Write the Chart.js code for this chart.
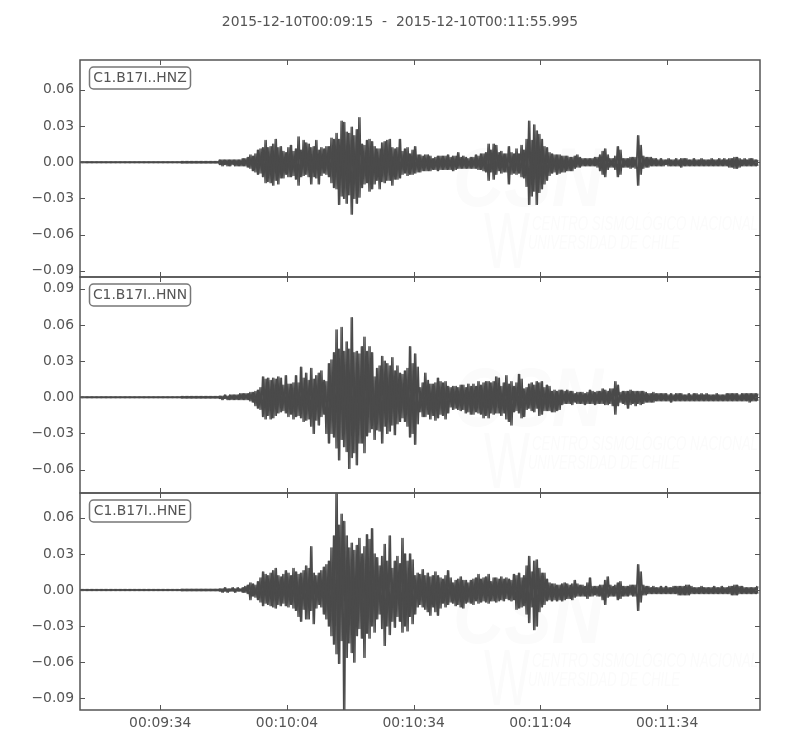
<!DOCTYPE html>
<html>
<head>
<meta charset="utf-8">
<script src="https://cdn.jsdelivr.net/npm/chart.js@4"></script>
<style>
html,body{margin:0;padding:0;background:#fff;width:800px;height:750px;overflow:hidden}
canvas{position:absolute;left:0;top:0}
</style>
</head>
<body>
<canvas id="c0" width="800" height="750"></canvas>
<canvas id="c1" width="800" height="750"></canvas>
<canvas id="c2" width="800" height="750"></canvas>
<script>
const titleText = '2015-12-10T00:09:15  -  2015-12-10T00:11:55.995';
const stationLabels = ['C1.B17I..HNZ', 'C1.B17I..HNN', 'C1.B17I..HNE'];
const xTickSeconds = [19, 49, 79, 109, 139];
const xTickLabels = ['00:09:34', '00:10:04', '00:10:34', '00:11:04', '00:11:34'];
const yTicks0 = [0.06, 0.03, 0, -0.03, -0.06, -0.09];
const yTicks1 = [0.09, 0.06, 0.03, 0, -0.03, -0.06];
const yTicks2 = [0.06, 0.03, 0, -0.03, -0.06, -0.09];
const yRange0 = [-0.0951, 0.0847];
const yRange1 = [-0.0794, 0.0998];
const yRange2 = [-0.0997, 0.0806];

/* trace extremes read per 0.6 s window, in thousandths of the axis unit */
const hnzUp = [
.5,.5,.5,.5,.5,.5,.5,.5,.5,.5,.5,.5,.5,.5,.5,.5,.5,.5,.5,.5,
.5,.5,.5,.5,.5,.5,.5,.5,.5,.5,.5,.5,.5,.5,.5,.5,.5,.5,.5,.5,
.7,.7,.7,.7,.7,.7,.7,.7,.7,.7,.7,.7,.7,.7,.7,
2,2,2,2,2,2,2,2,2,3,
3,4,6,5,7,10,11,12,18,12,
13,15,19,12,13,9,8,12,14,9,
11,21,10,18,16,15,12,13,18,10,
12,11,13,13,20,19,24,19,34,33,
25,24,29,22,27,37,15,14,18,19,
17,13,11,11,16,17,18,19,12,11,
12,19,9,11,12,7,10,13,6,6,
5,6,6,5,3,4,5,5,5,5,
6,4,5,5,8,4,5,4,3,4,
4,6,5,7,7,8,15,10,15,14,
8,9,7,7,13,8,7,11,7,14,
10,19,34,18,31,26,23,19,13,12,
8,7,6,6,6,5,5,5,4,4,
5,6,4,3,3,3,3,3,4,4,
6,9,11,6,3,3,5,13,10,3,
3,3,4,4,4,22,14,5,4,4,
4,3,3,2,3,2,2,3,2,2,
3,2,3,3,3,2,2,3,2,2,
3,2,2,2,3,2,2,3,2,3,
2,3,3,4,4,3,2,3,2,3,
3,2,2];
const hnzDown = [
.5,.5,.5,.5,.5,.5,.5,.5,.5,.5,.5,.5,.5,.5,.5,.5,.5,.5,.5,.5,
.5,.5,.5,.5,.5,.5,.5,.5,.5,.5,.5,.5,.5,.5,.5,.5,.5,.5,.5,.5,
.7,.7,.7,.7,.7,.7,.7,.7,.7,.7,.7,.7,.7,.7,.7,
2,3,2,3,3,2,3,3,3,3,
3,4,5,7,8,10,9,12,17,16,
17,19,15,18,13,13,10,12,12,11,
14,19,12,11,10,12,18,12,13,18,
11,9,10,12,17,21,22,35,28,30,
34,27,43,30,34,29,21,18,17,24,
22,18,15,22,16,17,15,15,19,14,
14,13,10,9,11,10,10,9,8,8,
7,7,7,7,6,6,7,6,6,6,
6,6,7,6,5,5,5,5,5,5,
5,5,6,6,7,8,15,8,14,10,
7,9,8,8,18,10,9,10,9,12,
13,20,35,28,24,35,25,22,18,15,
11,9,8,10,9,8,8,7,7,7,
5,4,4,3,3,3,3,3,3,4,
7,10,12,6,4,4,6,12,10,4,
4,4,5,4,5,19,10,5,4,4,
3,3,3,3,3,3,2,3,3,3,
3,3,4,3,3,3,3,3,3,3,
3,3,3,3,3,3,3,3,3,3,
3,4,4,5,5,4,3,3,3,3,
3,3,3];
const hnnUp = [
.5,.5,.5,.5,.5,.5,.5,.5,.5,.5,.5,.5,.5,.5,.5,.5,.5,.5,.5,.5,
.5,.5,.5,.5,.5,.5,.5,.5,.5,.5,.5,.5,.5,.5,.5,.5,.5,.5,.5,.5,
.7,.7,.7,.7,.7,.7,.7,.7,.7,.7,.7,.7,.7,.7,.7,
1,1,2,1,2,2,2,2,3,3,
3,3,4,4,5,6,8,17,15,16,
14,16,15,17,16,10,18,11,11,12,
18,12,25,16,20,14,24,15,18,20,
22,14,13,28,31,37,56,40,58,38,
46,40,66,37,38,36,42,50,38,42,
37,17,24,26,34,30,28,26,33,22,
26,20,19,22,24,42,28,36,25,8,
12,20,14,11,11,12,16,13,12,13,
9,8,9,9,8,10,10,8,11,9,
11,9,13,10,12,13,13,12,13,17,
16,9,12,18,11,13,9,12,19,15,
7,8,11,12,10,13,12,13,8,10,
9,5,6,5,6,6,5,6,5,5,
3,4,4,4,3,4,6,5,4,5,
5,7,6,5,7,7,13,10,4,5,
5,5,6,5,5,5,5,5,4,3,
3,4,3,3,3,3,3,2,3,2,
3,3,3,2,2,3,2,3,3,2,
3,2,3,2,2,2,3,2,2,2,
3,3,3,3,3,2,3,3,3,3,
3,3,3];
const hnnDown = [
.5,.5,.5,.5,.5,.5,.5,.5,.5,.5,.5,.5,.5,.5,.5,.5,.5,.5,.5,.5,
.5,.5,.5,.5,.5,.5,.5,.5,.5,.5,.5,.5,.5,.5,.5,.5,.5,.5,.5,.5,
.7,.7,.7,.7,.7,.7,.7,.7,.7,.7,.7,.7,.7,.7,.7,
1,2,1,2,2,2,2,2,2,2,
2,2,3,4,7,9,10,16,18,15,
18,17,15,13,12,11,13,16,14,18,
16,15,17,20,19,18,24,30,19,23,
16,14,30,38,30,33,42,52,35,41,
45,59,50,46,56,38,38,46,32,29,
26,35,27,28,38,24,30,28,23,31,
22,20,17,20,24,33,30,39,22,12,
16,16,14,18,15,19,17,14,15,18,
13,8,10,9,10,11,10,13,12,14,
14,12,13,14,17,15,17,13,14,13,
13,15,13,18,20,23,12,11,13,17,
16,10,9,11,12,9,15,14,11,11,
11,12,12,11,10,6,5,5,5,6,
4,5,5,5,6,5,5,5,6,5,
5,5,6,6,5,7,14,7,4,5,
6,9,6,5,7,5,6,5,4,4,
4,4,3,3,3,3,3,3,4,3,
3,3,3,3,3,3,3,3,3,3,
3,3,3,3,3,3,3,3,3,3,
3,3,3,3,3,3,3,3,3,4,
3,3,3];
const hneUp = [
.5,.5,.5,.5,.5,.5,.5,.5,.5,.5,.5,.5,.5,.5,.5,.5,.5,.5,.5,.5,
.5,.5,.5,.5,.5,.5,.5,.5,.5,.5,.5,.5,.5,.5,.5,.5,.5,.5,.5,.5,
.7,.7,.7,.7,.7,.7,.7,.7,.7,.7,.7,.7,.7,.7,.7,
1,1,2,1,1,2,1,2,1,2,
3,4,6,5,4,7,10,15,13,12,
14,16,18,12,11,13,16,14,12,18,
15,13,14,16,20,18,36,14,12,14,
16,19,21,24,35,45,85,54,63,57,
45,35,39,33,37,43,30,36,46,42,
51,30,27,20,28,38,24,45,18,24,
28,22,43,30,24,30,25,12,14,13,
17,12,14,11,12,15,12,10,9,12,
16,10,6,8,9,11,8,8,6,8,
9,10,13,9,10,11,13,7,10,10,
9,11,9,10,9,8,13,12,14,10,
12,20,28,15,24,25,18,14,14,9,
6,5,5,4,4,5,6,5,4,5,
8,5,4,4,3,6,10,3,3,3,
4,4,8,11,4,3,4,6,7,3,
3,3,4,4,4,21,15,4,3,3,
2,3,2,2,3,2,3,2,2,3,
3,3,3,3,4,4,3,2,2,2,
3,2,2,2,2,3,2,2,3,2,
2,3,3,4,4,3,3,2,2,2,
2,2,3];
const hneDown = [
.5,.5,.5,.5,.5,.5,.5,.5,.5,.5,.5,.5,.5,.5,.5,.5,.5,.5,.5,.5,
.5,.5,.5,.5,.5,.5,.5,.5,.5,.5,.5,.5,.5,.5,.5,.5,.5,.5,.5,.5,
.7,.7,.7,.7,.7,.7,.7,.7,.7,.7,.7,.7,.7,.7,.7,
1,2,1,2,1,1,2,1,1,2,
2,3,8,5,6,8,10,13,11,12,
13,14,15,12,13,11,13,14,12,15,
17,22,26,16,24,24,17,28,15,12,
14,20,24,30,38,45,53,61,42,100,
56,44,52,60,38,32,40,56,36,40,
30,35,24,20,32,46,30,37,26,31,
22,26,35,30,34,22,28,20,14,12,
14,16,18,21,14,18,21,15,11,14,
12,10,11,13,12,14,15,11,10,11,
12,9,11,10,9,10,11,9,9,10,
9,8,9,7,8,9,8,16,15,14,
13,20,27,14,33,30,18,14,12,9,
8,9,8,9,8,9,8,7,7,8,
6,5,5,5,5,7,5,5,4,5,
5,8,12,6,5,5,5,8,7,5,
5,5,4,5,5,17,10,4,4,3,
3,3,3,3,3,3,3,3,3,3,
3,4,4,4,4,4,3,3,3,3,
3,3,3,3,3,3,3,3,3,3,
3,3,4,4,4,3,3,3,3,3,
3,3,3];

const ink = '#4a4a4a', frame = '#555555', textInk = '#555555';
const fontFamily = '"DejaVu Sans", sans-serif';
const fontPx = 13.89;
const windowSeconds = 0.6, duration = 160.995;
const panelEdges = [[60, 277], [277, 493], [493, 710]];
const watermarkShift = [0, 3, 4];

/* the trace swings between the read extremes; the second pass crosses the first so the body is solid */
function traceA(up, down) {
  const pts = [];
  up.forEach((v, i) => {
    pts.push({x: i * windowSeconds, y: v / 1000});
    pts.push({x: (i + 0.5) * windowSeconds, y: -down[i] / 1000});
  });
  return pts;
}
function traceB(up, down) {
  const pts = [];
  up.forEach((v, i) => {
    pts.push({x: i * windowSeconds, y: -down[i] / 1000});
    pts.push({x: (i + 0.5) * windowSeconds, y: v / 1000});
  });
  return pts;
}

function makeFramePlugin(idx) {
  return {
    id: 'frame' + idx,
    beforeDatasetsDraw(chart) {
      const {ctx, chartArea: a} = chart;
      const s = watermarkShift[idx];
      ctx.save();
      ctx.beginPath(); ctx.rect(a.left, a.top, a.right - a.left, a.bottom - a.top); ctx.clip();
      ctx.fillStyle = '#fbfbfb';
      ctx.textAlign = 'left'; ctx.textBaseline = 'alphabetic';
      ctx.font = 'italic bold 84px "Liberation Sans"';
      ctx.fillText('CSN', 453, a.top + 146 + s, 150);
      ctx.font = '80px "Liberation Sans"';
      ctx.fillText('W', 484, a.top + 208 + s, 46);
      ctx.font = 'italic 21px "Liberation Sans"';
      ctx.fillText('CENTRO SISMOLÓGICO NACIONAL', 532, a.top + 170 + s, 226);
      ctx.fillText('UNIVERSIDAD DE CHILE', 528, a.top + 189 + s, 152);
      ctx.restore();
    },
    afterDraw(chart) {
      const {ctx, chartArea: a, scales} = chart;
      ctx.save();
      ctx.strokeStyle = frame; ctx.lineWidth = 1;
      ctx.beginPath();
      scales.x.ticks.forEach(t => {
        const p = Math.round(scales.x.getPixelForValue(t.value)) + 0.5;
        ctx.moveTo(p, a.top); ctx.lineTo(p, a.top + 5);
        ctx.moveTo(p, a.bottom); ctx.lineTo(p, a.bottom - 5);
      });
      scales.y.ticks.forEach(t => {
        const p = Math.round(scales.y.getPixelForValue(t.value)) + 0.5;
        ctx.moveTo(a.left, p); ctx.lineTo(a.left + 5, p);
        ctx.moveTo(a.right, p); ctx.lineTo(a.right - 5, p);
      });
      ctx.stroke();
      ctx.lineWidth = 1.5;
      ctx.strokeRect(a.left, a.top, a.right - a.left, a.bottom - a.top);
      /* station label box */
      const bx = a.left + 9.5, by = a.top + 7, bw = 101, bh = 22;
      ctx.beginPath(); ctx.roundRect(bx, by, bw, bh, 4);
      ctx.fillStyle = '#fff'; ctx.fill();
      ctx.strokeStyle = '#777'; ctx.lineWidth = 1.5; ctx.stroke();
      ctx.fillStyle = textInk; ctx.font = fontPx + 'px ' + fontFamily;
      ctx.textAlign = 'center'; ctx.textBaseline = 'middle';
      ctx.fillText(stationLabels[idx], bx + bw / 2, by + bh / 2);
      ctx.restore();
    }
  };
}

function build(idx, up, down, yTicks, yRange) {
  const [top, bottom] = panelEdges[idx];
  const last = idx === 2, first = idx === 0;
  const style = {borderColor: ink, borderWidth: 1.25, borderJoinStyle: 'round', pointRadius: 0, tension: 0, fill: false};
  new Chart(document.getElementById('c' + idx), {
    type: 'line',
    data: {datasets: [
      Object.assign({label: stationLabels[idx], data: traceA(up, down)}, style),
      Object.assign({label: stationLabels[idx] + ' body', data: traceB(up, down)}, style)
    ]},
    options: {
      responsive: false, animation: false, parsing: false,
      events: [],
      layout: {padding: {left: 0, right: 0, top: first ? 0 : top, bottom: 750 - bottom - (last ? 40 : 0)}},
      plugins: {
        legend: {display: false}, tooltip: {enabled: false},
        title: {
          display: first, text: titleText, color: textInk,
          font: {family: fontFamily, size: fontPx, weight: 'normal', lineHeight: 1.2},
          padding: {top: 14.5, bottom: 28.83}
        }
      },
      scales: {
        x: {
          type: 'linear', min: 0, max: duration,
          border: {display: false},
          grid: {display: false, drawTicks: false},
          afterBuildTicks(s) { s.ticks = xTickSeconds.map(v => ({value: v})); },
          afterFit(s) { s.height = last ? 40 : 0; },
          ticks: {
            display: last, autoSkip: false, maxRotation: 0, padding: 5, color: textInk,
            font: {family: fontFamily, size: fontPx},
            callback: v => xTickLabels[xTickSeconds.indexOf(v)]
          }
        },
        y: {
          type: 'linear', min: yRange[0], max: yRange[1],
          border: {display: false},
          grid: {display: false, drawTicks: false},
          afterBuildTicks(s) { s.ticks = yTicks.map(v => ({value: v})); },
          afterFit(s) { s.width = 80; },
          ticks: {
            autoSkip: false, padding: 6, color: textInk,
            font: {family: fontFamily, size: fontPx},
            callback: v => (v < 0 ? '\u2212' : '') + Math.abs(v).toFixed(2)
          }
        },
        rightGutter: {
          type: 'linear', position: 'right', min: 0, max: 1,
          border: {display: false},
          grid: {display: false, drawTicks: false},
          ticks: {display: false},
          afterFit(s) { s.width = 40; }
        }
      }
    },
    plugins: [makeFramePlugin(idx)]
  });
}

build(0, hnzUp, hnzDown, yTicks0, yRange0);
build(1, hnnUp, hnnDown, yTicks1, yRange1);
build(2, hneUp, hneDown, yTicks2, yRange2);
</script>
</body>
</html>
